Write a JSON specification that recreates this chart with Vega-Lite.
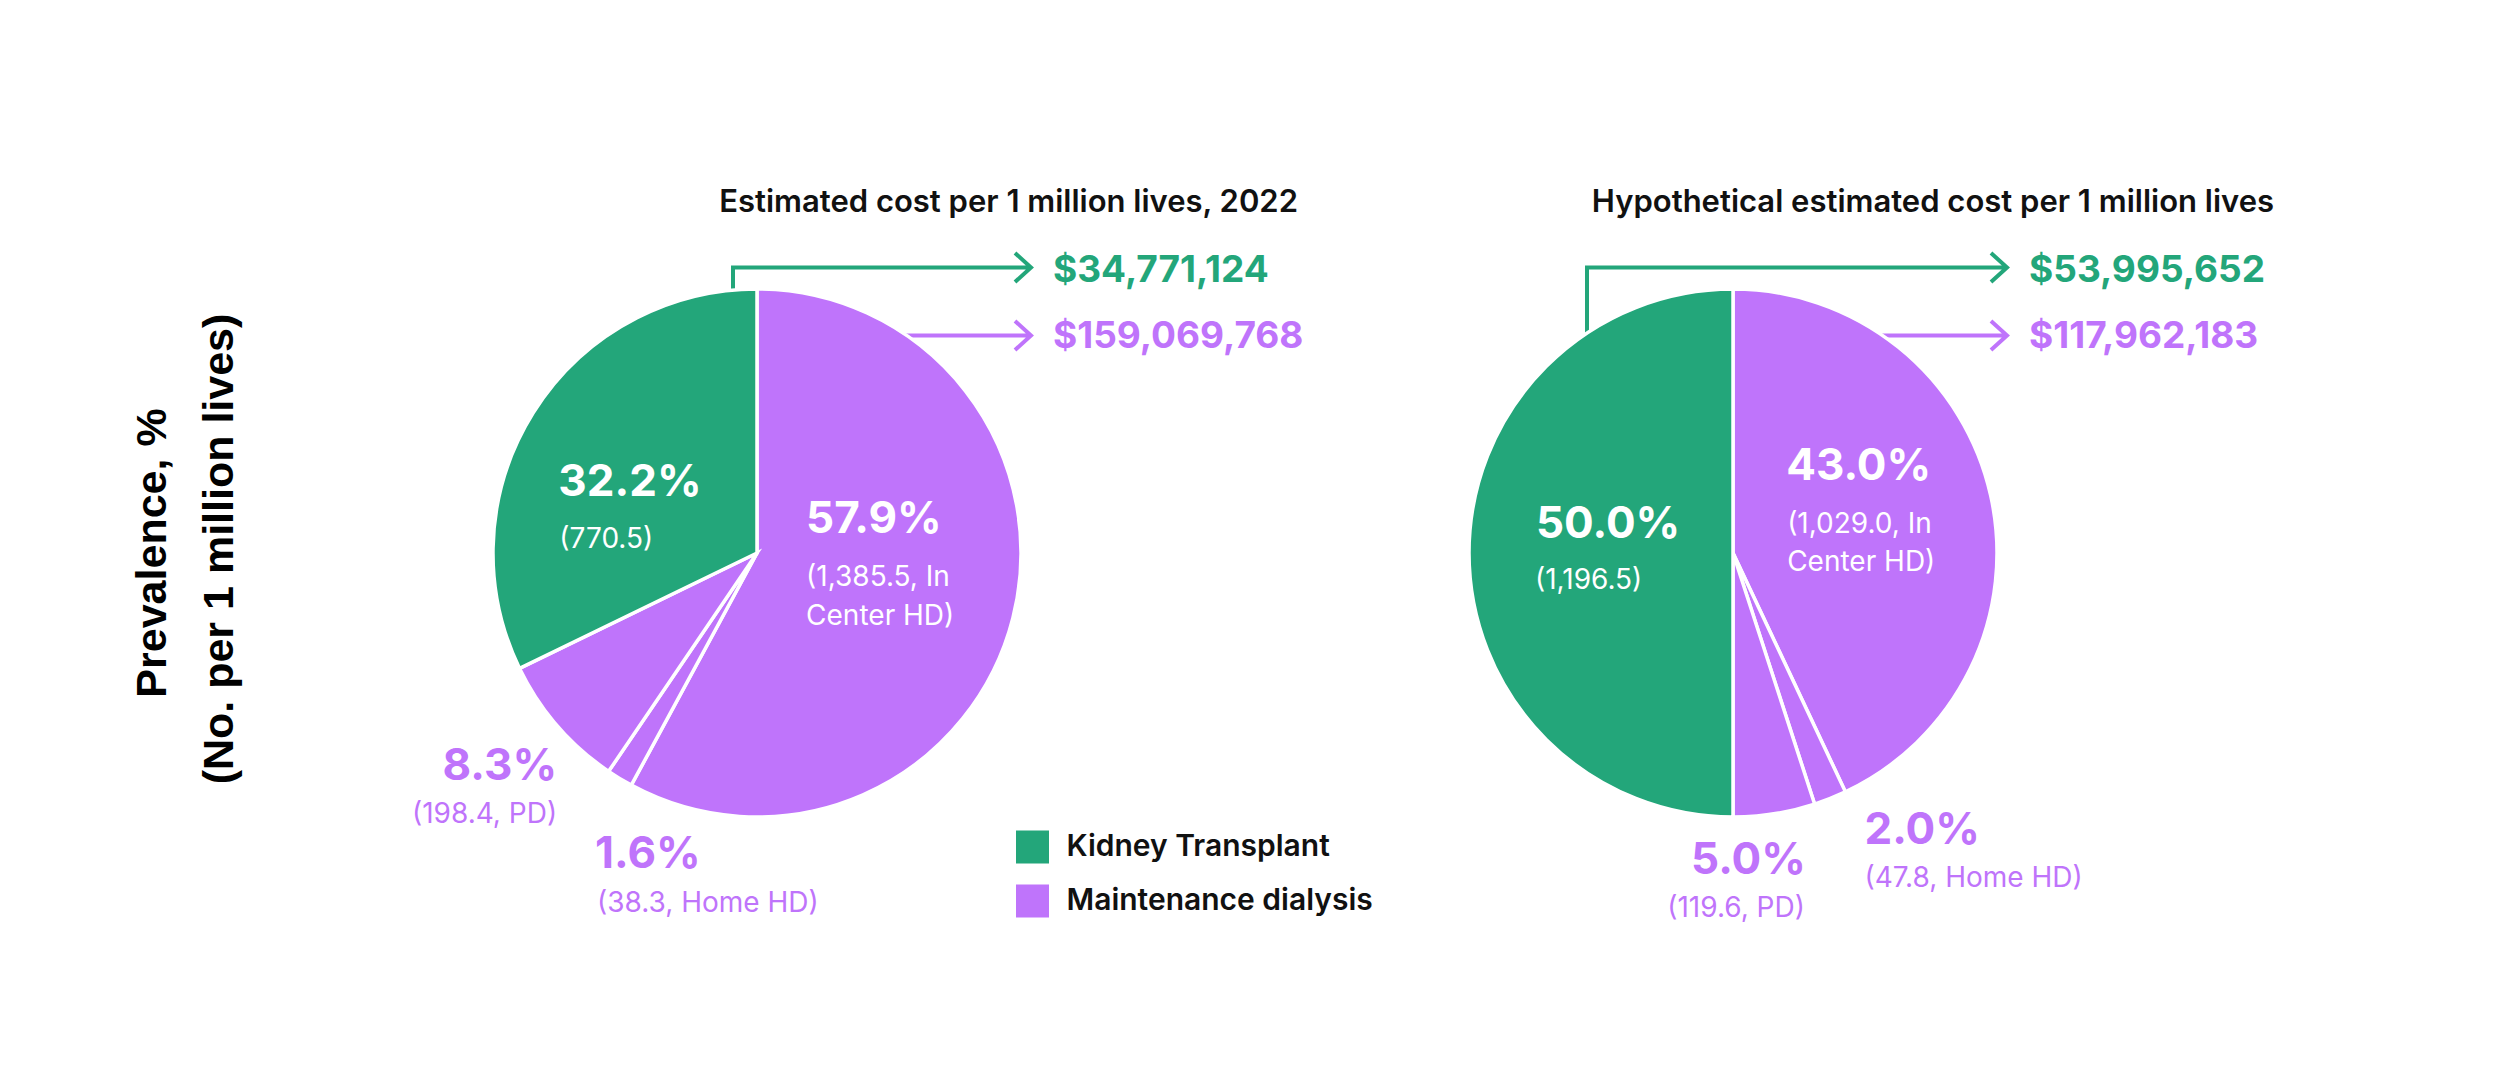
{
  "$schema": "https://vega.github.io/schema/vega-lite/v6.json",
  "width": 2514,
  "height": 1084,
  "autosize": {"type": "fit", "contains": "padding"},
  "padding": {"top": 22, "left": 0, "right": 0, "bottom": 0},
  "background": "#ffffff",
  "config": {"view": {"stroke": null}, "font": "Inter"},
  "datasets": {
    "slices": [
      {"scenario": "2022", "part": "In Center HD", "group": "Maintenance dialysis", "ord": 1, "share": 0.579, "n": 1385.5, "detail": "(1,385.5, In\nCenter HD)"},
      {"scenario": "2022", "part": "Home HD", "group": "Maintenance dialysis", "ord": 2, "share": 0.016, "n": 38.3, "detail": "(38.3, Home HD)"},
      {"scenario": "2022", "part": "PD", "group": "Maintenance dialysis", "ord": 3, "share": 0.083, "n": 198.4, "detail": "(198.4, PD)"},
      {"scenario": "2022", "part": "Kidney Transplant", "group": "Kidney Transplant", "ord": 4, "share": 0.322, "n": 770.5, "detail": "(770.5)"},
      {"scenario": "Hypothetical", "part": "In Center HD", "group": "Maintenance dialysis", "ord": 1, "share": 0.43, "n": 1029.0, "detail": "(1,029.0, In\nCenter HD)"},
      {"scenario": "Hypothetical", "part": "Home HD", "group": "Maintenance dialysis", "ord": 2, "share": 0.02, "n": 47.8, "detail": "(47.8, Home HD)"},
      {"scenario": "Hypothetical", "part": "PD", "group": "Maintenance dialysis", "ord": 3, "share": 0.05, "n": 119.6, "detail": "(119.6, PD)"},
      {"scenario": "Hypothetical", "part": "Kidney Transplant", "group": "Kidney Transplant", "ord": 4, "share": 0.5, "n": 1196.5, "detail": "(1,196.5)"}
    ],
    "costs": [
      {"scenario": "2022", "group": "Kidney Transplant", "cost": 34771124},
      {"scenario": "2022", "group": "Maintenance dialysis", "cost": 159069768},
      {"scenario": "Hypothetical", "group": "Kidney Transplant", "cost": 53995652},
      {"scenario": "Hypothetical", "group": "Maintenance dialysis", "cost": 117962183}
    ],
    "panels": [
      {"scenario": "2022", "title": "Estimated cost per 1 million lives, 2022"},
      {"scenario": "Hypothetical", "title": "Hypothetical estimated cost per 1 million lives"}
    ]
  },
  "layer": [
    {
      "data": {"name": "costs"},
      "transform": [{"filter": "datum.group === 'Kidney Transplant'"}],
      "mark": {"type": "point", "filled": false, "size": 4, "strokeWidth": 4, "opacity": 1, "color": "#23a67a", "strokeJoin": "miter"},
      "encoding": {
        "x": {"field": "scenario", "type": "nominal", "scale": {"type": "point", "domain": ["2022", "Hypothetical"], "range": [757, 1733], "padding": 0}, "axis": null},
        "shape": {"field": "scenario", "type": "nominal", "scale": {"domain": ["2022", "Hypothetical"], "range": ["M-24,-250L-24,-285.5L274,-285.5M258,-300L274,-285.5L258,-271", "M-146,-200L-146,-285.5L274,-285.5M258,-300L274,-285.5L258,-271"]}, "legend": null}
      }
    },
    {
      "data": {"name": "costs"},
      "transform": [{"filter": "datum.group === 'Maintenance dialysis'"}],
      "mark": {"type": "point", "filled": false, "size": 4, "strokeWidth": 4, "opacity": 1, "color": "#bf74fb", "strokeJoin": "miter", "shape": "M130,-217.5L274,-217.5M258,-232L274,-217.5L258,-203"},
      "encoding": {
        "x": {"field": "scenario", "type": "nominal", "scale": {"type": "point", "domain": ["2022", "Hypothetical"], "range": [757, 1733], "padding": 0}, "axis": null}
      }
    },
    {
      "data": {"name": "slices"},
      "transform": [{"filter": "datum.scenario === '2022'"}],
      "encoding": {
        "x": {"field": "scenario", "type": "nominal", "scale": {"type": "point", "domain": ["2022", "Hypothetical"], "range": [757, 1733], "padding": 0}, "axis": null},
        "theta": {"field": "share", "type": "quantitative", "stack": true, "scale": {"domain": [0, 1]}},
        "order": {"field": "ord", "type": "quantitative"}
      },
      "layer": [
        {
          "mark": {"type": "arc", "outerRadius": 264, "stroke": "#ffffff", "strokeWidth": 3.5},
          "encoding": {
            "color": {"field": "group", "type": "nominal", "scale": {"domain": ["Kidney Transplant", "Maintenance dialysis"], "range": ["#23a67a", "#bf74fb"]},
              "legend": {"orient": "none", "legendX": 1016, "legendY": 808.5, "title": null, "direction": "vertical", "symbolType": "square", "symbolSize": 1089, "symbolStrokeWidth": 0, "symbolOpacity": 1, "labelFont": "Inter", "labelFontSize": 30, "labelFontWeight": 600, "labelColor": "#111111", "labelOffset": 17.5, "labelLimit": 0, "rowPadding": 21, "padding": 0}}
          }
        },
        {"mark": {"type": "text", "radius": 160, "align": "left", "baseline": "alphabetic", "dx": -63, "dy": 28, "fontSize": 44, "fontWeight": 700, "color": "#ffffff"},
         "encoding": {"text": {"condition": {"test": "datum.part === 'Kidney Transplant'", "field": "share", "type": "quantitative", "format": ".1%"}, "value": ""}}},
        {"mark": {"type": "text", "radius": 160, "align": "left", "baseline": "alphabetic", "dx": -62, "dy": 80, "fontSize": 28, "fontWeight": 400, "color": "#ffffff", "lineBreak": "\n", "lineHeight": 39},
         "encoding": {"text": {"condition": {"test": "datum.part === 'Kidney Transplant'", "field": "detail", "type": "nominal"}, "value": ""}}},
        {"mark": {"type": "text", "radius": 160, "align": "left", "baseline": "alphabetic", "dx": -106, "dy": -59, "fontSize": 44, "fontWeight": 700, "color": "#ffffff"},
         "encoding": {"text": {"condition": {"test": "datum.part === 'In Center HD'", "field": "share", "type": "quantitative", "format": ".1%"}, "value": ""}}},
        {"mark": {"type": "text", "radius": 160, "align": "left", "baseline": "alphabetic", "dx": -106, "dy": -6, "fontSize": 28, "fontWeight": 400, "color": "#ffffff", "lineBreak": "\n", "lineHeight": 39},
         "encoding": {"text": {"condition": {"test": "datum.part === 'In Center HD'", "field": "detail", "type": "nominal"}, "value": ""}}},
        {"mark": {"type": "text", "radius": 300, "align": "right", "baseline": "alphabetic", "dx": 27, "dy": 31, "fontSize": 44, "fontWeight": 700, "color": "#bf74fb"},
         "encoding": {"text": {"condition": {"test": "datum.part === 'PD'", "field": "share", "type": "quantitative", "format": ".1%"}, "value": ""}}},
        {"mark": {"type": "text", "radius": 300, "align": "right", "baseline": "alphabetic", "dx": 27, "dy": 74, "fontSize": 28, "fontWeight": 400, "color": "#bf74fb"},
         "encoding": {"text": {"condition": {"test": "datum.part === 'PD'", "field": "detail", "type": "nominal"}, "value": ""}}},
        {"mark": {"type": "text", "radius": 300, "align": "left", "baseline": "alphabetic", "dx": -6, "dy": 59, "fontSize": 44, "fontWeight": 700, "color": "#bf74fb"},
         "encoding": {"text": {"condition": {"test": "datum.part === 'Home HD'", "field": "share", "type": "quantitative", "format": ".1%"}, "value": ""}}},
        {"mark": {"type": "text", "radius": 300, "align": "left", "baseline": "alphabetic", "dx": -4, "dy": 103, "fontSize": 28, "fontWeight": 400, "color": "#bf74fb"},
         "encoding": {"text": {"condition": {"test": "datum.part === 'Home HD'", "field": "detail", "type": "nominal"}, "value": ""}}}
      ]
    },
    {
      "data": {"name": "slices"},
      "transform": [{"filter": "datum.scenario === 'Hypothetical'"}],
      "encoding": {
        "x": {"field": "scenario", "type": "nominal", "scale": {"type": "point", "domain": ["2022", "Hypothetical"], "range": [757, 1733], "padding": 0}, "axis": null},
        "theta": {"field": "share", "type": "quantitative", "stack": true, "scale": {"domain": [0, 1]}},
        "order": {"field": "ord", "type": "quantitative"}
      },
      "layer": [
        {
          "mark": {"type": "arc", "outerRadius": 264, "stroke": "#ffffff", "strokeWidth": 3.5},
          "encoding": {
            "color": {"field": "group", "type": "nominal", "scale": {"domain": ["Kidney Transplant", "Maintenance dialysis"], "range": ["#23a67a", "#bf74fb"]},
              "legend": {"orient": "none", "legendX": 1016, "legendY": 808.5, "title": null, "direction": "vertical", "symbolType": "square", "symbolSize": 1089, "symbolStrokeWidth": 0, "symbolOpacity": 1, "labelFont": "Inter", "labelFontSize": 30, "labelFontWeight": 600, "labelColor": "#111111", "labelOffset": 17.5, "labelLimit": 0, "rowPadding": 21, "padding": 0}}
          }
        },
        {"mark": {"type": "text", "radius": 160, "align": "left", "baseline": "alphabetic", "dx": -37, "dy": -15, "fontSize": 44, "fontWeight": 700, "color": "#ffffff"},
         "encoding": {"text": {"condition": {"test": "datum.part === 'Kidney Transplant'", "field": "share", "type": "quantitative", "format": ".1%"}, "value": ""}}},
        {"mark": {"type": "text", "radius": 160, "align": "left", "baseline": "alphabetic", "dx": -38, "dy": 36, "fontSize": 28, "fontWeight": 400, "color": "#ffffff", "lineBreak": "\n", "lineHeight": 38},
         "encoding": {"text": {"condition": {"test": "datum.part === 'Kidney Transplant'", "field": "detail", "type": "nominal"}, "value": ""}}},
        {"mark": {"type": "text", "radius": 160, "align": "left", "baseline": "alphabetic", "dx": -103, "dy": -38, "fontSize": 44, "fontWeight": 700, "color": "#ffffff"},
         "encoding": {"text": {"condition": {"test": "datum.part === 'In Center HD'", "field": "share", "type": "quantitative", "format": ".1%"}, "value": ""}}},
        {"mark": {"type": "text", "radius": 160, "align": "left", "baseline": "alphabetic", "dx": -102, "dy": 15, "fontSize": 28, "fontWeight": 400, "color": "#ffffff", "lineBreak": "\n", "lineHeight": 38},
         "encoding": {"text": {"condition": {"test": "datum.part === 'In Center HD'", "field": "detail", "type": "nominal"}, "value": ""}}},
        {"mark": {"type": "text", "radius": 300, "align": "right", "baseline": "alphabetic", "dx": 26, "dy": 25, "fontSize": 44, "fontWeight": 700, "color": "#bf74fb"},
         "encoding": {"text": {"condition": {"test": "datum.part === 'PD'", "field": "share", "type": "quantitative", "format": ".1%"}, "value": ""}}},
        {"mark": {"type": "text", "radius": 300, "align": "right", "baseline": "alphabetic", "dx": 25, "dy": 68, "fontSize": 28, "fontWeight": 400, "color": "#bf74fb"},
         "encoding": {"text": {"condition": {"test": "datum.part === 'PD'", "field": "detail", "type": "nominal"}, "value": ""}}},
        {"mark": {"type": "text", "radius": 300, "align": "left", "baseline": "alphabetic", "dx": 21, "dy": 12, "fontSize": 44, "fontWeight": 700, "color": "#bf74fb"},
         "encoding": {"text": {"condition": {"test": "datum.part === 'Home HD'", "field": "share", "type": "quantitative", "format": ".1%"}, "value": ""}}},
        {"mark": {"type": "text", "radius": 300, "align": "left", "baseline": "alphabetic", "dx": 21, "dy": 55, "fontSize": 28, "fontWeight": 400, "color": "#bf74fb"},
         "encoding": {"text": {"condition": {"test": "datum.part === 'Home HD'", "field": "detail", "type": "nominal"}, "value": ""}}}
      ]
    },
    {
      "data": {"name": "costs"},
      "transform": [{"filter": "datum.group === 'Kidney Transplant'"}],
      "mark": {"type": "text", "align": "left", "baseline": "alphabetic", "dx": 296, "dy": -271, "fontSize": 37, "fontWeight": 700, "color": "#23a67a"},
      "encoding": {
        "x": {"field": "scenario", "type": "nominal", "scale": {"type": "point", "domain": ["2022", "Hypothetical"], "range": [757, 1733], "padding": 0}, "axis": null},
        "text": {"field": "cost", "type": "quantitative", "format": "$,d"}
      }
    },
    {
      "data": {"name": "costs"},
      "transform": [{"filter": "datum.group === 'Maintenance dialysis'"}],
      "mark": {"type": "text", "align": "left", "baseline": "alphabetic", "dx": 296, "dy": -205, "fontSize": 37, "fontWeight": 700, "color": "#bf74fb"},
      "encoding": {
        "x": {"field": "scenario", "type": "nominal", "scale": {"type": "point", "domain": ["2022", "Hypothetical"], "range": [757, 1733], "padding": 0}, "axis": null},
        "text": {"field": "cost", "type": "quantitative", "format": "$,d"}
      }
    },
    {
      "data": {"name": "panels"},
      "mark": {"type": "text", "align": "right", "baseline": "alphabetic", "dx": 541, "dy": -341, "fontSize": 31, "fontWeight": 600, "color": "#111111"},
      "encoding": {
        "x": {"field": "scenario", "type": "nominal", "scale": {"type": "point", "domain": ["2022", "Hypothetical"], "range": [757, 1733], "padding": 0}, "axis": null},
        "text": {"field": "title", "type": "nominal"}
      }
    },
    {
      "data": {"name": "panels"},
      "transform": [{"filter": "datum.scenario === '2022'"}],
      "mark": {"type": "text", "align": "center", "baseline": "middle", "angle": 270, "dx": 0, "dy": -604, "font": "Liberation Sans", "fontSize": 43, "fontWeight": "bold", "color": "#000000"},
      "encoding": {
        "x": {"field": "scenario", "type": "nominal", "scale": {"type": "point", "domain": ["2022", "Hypothetical"], "range": [757, 1733], "padding": 0}, "axis": null},
        "text": {"value": "Prevalence, %"}
      }
    },
    {
      "data": {"name": "panels"},
      "transform": [{"filter": "datum.scenario === '2022'"}],
      "mark": {"type": "text", "align": "center", "baseline": "middle", "angle": 270, "dx": 4, "dy": -537, "font": "Liberation Sans", "fontSize": 43, "fontWeight": "bold", "color": "#000000"},
      "encoding": {
        "x": {"field": "scenario", "type": "nominal", "scale": {"type": "point", "domain": ["2022", "Hypothetical"], "range": [757, 1733], "padding": 0}, "axis": null},
        "text": {"value": "(No. per 1 million lives)"}
      }
    }
  ]
}
